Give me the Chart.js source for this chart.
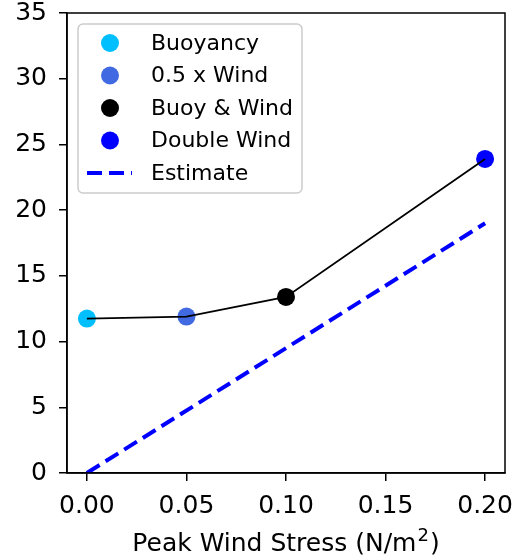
<!DOCTYPE html>
<html>
<head>
<meta charset="utf-8">
<script src="https://cdn.jsdelivr.net/npm/chart.js@4/dist/chart.umd.min.js"></script>
<style>
  html, body { margin: 0; padding: 0; background: #fff; }
  #wrap { width: 518px; height: 558px; }
</style>
</head>
<body>
<div id="wrap"><canvas id="peakChart" width="518" height="558"></canvas></div>
<script>
// runs and their peak value
const runNames = ['Buoyancy', '0.5 x Wind', 'Buoy & Wind', 'Double Wind'];
const windStress = [0, 0.05, 0.1, 0.2];
const peakValue = [11.75, 11.9, 13.4, 23.9];
const runColors = ['#00bfff', '#4169e1', '#000000', '#0000ff'];

// simple estimate line
const estimateLabel = 'Estimate';
const estimateX = [0, 0.2];
const estimateY = [0, 19];

const xTicks = [0, 0.05, 0.1, 0.15, 0.2];
const yTicks = [0, 5, 10, 15, 20, 25, 30, 35];
const xTitle = ['Peak Wind Stress (N/m', '2', ')'];

const FONT = '"DejaVu Sans", sans-serif';

const datasets = runNames.map(function(name, i) {
    return {
        label: name,
        data: [{ x: windStress[i], y: peakValue[i] }],
        backgroundColor: runColors[i],
        borderColor: runColors[i],
        pointRadius: 9,
        pointBorderWidth: 0,
        showLine: false,
        order: 1
    };
});
datasets.push({
    label: '',
    data: windStress.map(function(x, i) { return { x: x, y: peakValue[i] }; }),
    borderColor: '#000000',
    borderWidth: 1.8,
    pointRadius: 0,
    showLine: true,
    order: 0
});
datasets.push({
    label: estimateLabel,
    data: estimateX.map(function(x, i) { return { x: x, y: estimateY[i] }; }),
    borderColor: '#0000ff',
    backgroundColor: '#0000ff',
    borderWidth: 4,
    borderDash: [15, 7],
    pointRadius: 0,
    showLine: true,
    order: 2
});

// frame, x label with superscript, matplotlib style legend box
const framePlugin = {
    id: 'frame',
    afterDatasetsDraw(chart) {
        const ctx = chart.ctx;
        const a = chart.chartArea;
        ctx.save();
        ctx.strokeStyle = '#000';
        ctx.lineWidth = 1.5;
        ctx.strokeRect(a.left, a.top, a.right - a.left, a.bottom - a.top);

        // x axis label
        const big = '25px ' + FONT, small = '18px ' + FONT;
        ctx.font = big;
        const w1 = ctx.measureText(xTitle[0]).width;
        const w3 = ctx.measureText(xTitle[2]).width;
        ctx.font = small;
        const w2 = ctx.measureText(xTitle[1]).width + 2;
        let tx = (a.left + a.right) / 2 - (w1 + w2 + w3) / 2;
        const base = 551;
        ctx.fillStyle = '#000';
        ctx.textBaseline = 'alphabetic';
        ctx.textAlign = 'left';
        ctx.font = big;
        ctx.fillText(xTitle[0], tx, base);
        ctx.font = small;
        ctx.fillText(xTitle[1], tx + w1 + 1, base - 10);
        ctx.font = big;
        ctx.fillText(xTitle[2], tx + w1 + w2, base);

        // legend
        const bx = a.left + 11, by = a.top + 11, bw = 224, bh = 169;
        ctx.beginPath();
        ctx.roundRect(bx, by, bw, bh, 5);
        ctx.fillStyle = 'rgba(255,255,255,0.8)';
        ctx.fill();
        ctx.strokeStyle = '#cccccc';
        ctx.lineWidth = 1.5;
        ctx.stroke();

        const items = chart.data.datasets.filter(function(d) { return d.label; });
        ctx.font = '22px ' + FONT;
        ctx.textBaseline = 'middle';
        items.forEach(function(d, i) {
            const cy = by + 19 + i * 32.5;
            const mx = bx + 32;
            if (d.showLine) {
                ctx.beginPath();
                ctx.setLineDash(d.borderDash);
                ctx.strokeStyle = d.borderColor;
                ctx.lineWidth = d.borderWidth;
                ctx.moveTo(mx - 23, cy);
                ctx.lineTo(mx + 22, cy);
                ctx.stroke();
                ctx.setLineDash([]);
            } else {
                ctx.beginPath();
                ctx.arc(mx, cy, 9, 0, Math.PI * 2);
                ctx.fillStyle = d.backgroundColor;
                ctx.fill();
            }
            ctx.fillStyle = '#000';
            ctx.fillText(d.label, bx + 73, cy + 1);
        });
        ctx.restore();
    }
};

new Chart(document.getElementById('peakChart'), {
    type: 'scatter',
    data: { datasets: datasets },
    options: {
        responsive: false,
        animation: false,
        layout: { padding: { top: 13, right: 13, left: 0, bottom: 0 } },
        plugins: {
            legend: { display: false },
            tooltip: { enabled: false }
        },
        scales: {
            x: {
                type: 'linear',
                min: -0.01,
                max: 0.21,
                afterBuildTicks: function(scale) {
                    scale.ticks = xTicks.map(function(v) { return { value: v }; });
                },
                afterFit: function(scale) {
                    scale.height = 85;
                    scale.paddingLeft = 0;
                    scale.paddingRight = 0;
                },
                ticks: {
                    color: '#000',
                    padding: 10,
                    maxRotation: 0,
                    font: { family: FONT, size: 25 },
                    callback: function(v) { return Number(v).toFixed(2); }
                },
                grid: { drawOnChartArea: false, color: '#000', lineWidth: 1.5, tickLength: 8 },
                border: { color: '#000', width: 1.5 }
            },
            y: {
                min: 0,
                max: 35,
                afterBuildTicks: function(scale) {
                    scale.ticks = yTicks.map(function(v) { return { value: v }; });
                },
                afterFit: function(scale) {
                    scale.width = 67;
                    scale.paddingTop = 0;
                    scale.paddingBottom = 0;
                },
                ticks: {
                    color: '#000',
                    padding: 12,
                    font: { family: FONT, size: 25 }
                },
                grid: { drawOnChartArea: false, color: '#000', lineWidth: 1.5, tickLength: 8 },
                border: { color: '#000', width: 1.5 }
            }
        }
    },
    plugins: [framePlugin]
});
</script>
</body>
</html>
